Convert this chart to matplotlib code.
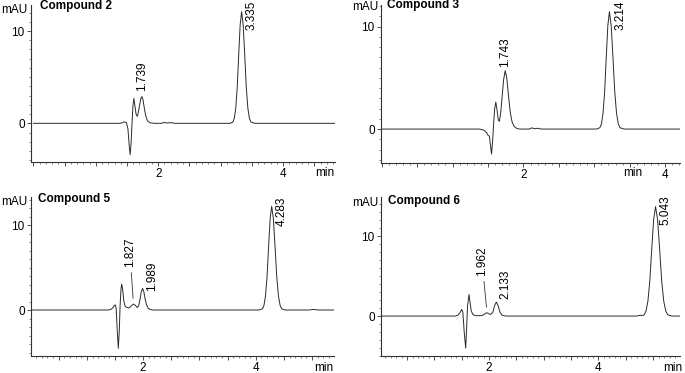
import numpy as np
import matplotlib.pyplot as plt
from matplotlib.ticker import MultipleLocator, FuncFormatter

plt.rcParams['font.family'] = ['Liberation Sans', 'DejaVu Sans']

# ---- data (time in min, signal in mAU) ----
names = ['Compound 2', 'Compound 3', 'Compound 5', 'Compound 6']

c2_time = [0, 1.40, 1.45, 1.49, 1.515, 1.535, 1.55, 1.565, 1.58, 1.595, 1.61, 1.625, 1.645,
           1.665, 1.685, 1.705, 1.722, 1.739, 1.755, 1.775, 1.80, 1.83, 1.87, 1.95, 2.05,
           2.10, 2.14, 2.20, 2.26, 3.15, 3.194, 3.2175, 3.241, 3.2645, 3.288, 3.3115, 3.335,
           3.36, 3.385, 3.41, 3.435, 3.46, 3.485, 3.55, 4.83]
c2_signal = [0, 0, 0.15, 0.1, -0.6, -2.4, -3.4, -2.2, 0.0, 1.9, 2.7, 2.0, 1.0,
             0.75, 1.3, 2.1, 2.7, 2.9, 2.6, 1.75, 0.8, 0.25, 0.05, 0, 0,
             0.1, 0.03, 0.08, 0, 0, 0.13, 0.53, 1.63, 3.87, 7.38, 10.65, 12.1,
             10.65, 7.38, 3.87, 1.63, 0.53, 0.13, 0, 0]

c3_time = [0, 1.38, 1.44, 1.48, 1.50, 1.52, 1.535, 1.55, 1.565, 1.58, 1.595, 1.61, 1.625,
           1.645, 1.66, 1.68, 1.70, 1.72, 1.743, 1.765, 1.79, 1.815, 1.84, 1.87, 1.91, 1.95,
           2.08, 2.12, 2.16, 2.20, 2.25, 3.03, 3.079, 3.1015, 3.124, 3.1465, 3.169, 3.1915,
           3.214, 3.239, 3.264, 3.289, 3.314, 3.339, 3.364, 3.42, 4.21]
c3_signal = [0, 0, -0.1, -0.35, -0.6, -0.7, -1.6, -2.43, -1.2, 0.6, 2.0, 2.63, 2.0,
             0.9, 0.75, 1.6, 3.2, 4.8, 5.7, 5.0, 3.2, 1.6, 0.7, 0.25, 0.05, 0,
             0, 0.12, 0.03, 0.08, 0, 0, 0.13, 0.5, 1.55, 3.66, 6.98, 10.08,
             11.45, 10.08, 6.98, 3.66, 1.55, 0.5, 0.13, 0, 0]

c5_time = [0, 1.36, 1.42, 1.46, 1.49, 1.505, 1.52, 1.54, 1.558, 1.575, 1.59, 1.605, 1.618,
           1.635, 1.655, 1.68, 1.71, 1.75, 1.79, 1.827, 1.86, 1.895, 1.92, 1.945, 1.965,
           1.989, 2.01, 2.035, 2.06, 2.09, 2.13, 2.18, 4.05, 4.118, 4.1455, 4.173, 4.2005,
           4.228, 4.2555, 4.283, 4.313, 4.343, 4.373, 4.403, 4.433, 4.463, 4.53, 4.95,
           5.03, 5.10, 5.39]
c5_signal = [0, 0, 0.05, 0.25, 0.55, 0.6, 0.2, -2.5, -4.5, -2.5, 0.5, 2.4, 3.06,
             2.4, 1.1, 0.45, 0.3, 0.25, 0.5, 0.7, 0.55, 0.3, 0.5, 1.3, 2.1,
             2.55, 2.2, 1.3, 0.6, 0.2, 0.05, 0, 0, 0.13, 0.54, 1.65, 3.9,
             7.44, 10.74, 12.2, 10.74, 7.44, 3.9, 1.65, 0.54, 0.13, 0, 0,
             0.08, 0, 0]

c6_time = [0, 1.38, 1.43, 1.47, 1.50, 1.52, 1.545, 1.572, 1.59, 1.605, 1.633, 1.65, 1.675,
           1.71, 1.76, 1.85, 1.90, 1.935, 1.962, 1.99, 2.03, 2.07, 2.10, 2.133, 2.165, 2.20,
           2.24, 2.30, 4.70, 4.76, 4.80, 4.833, 4.868, 4.903, 4.938, 4.973, 5.008, 5.043,
           5.0805, 5.118, 5.1555, 5.193, 5.2305, 5.268, 5.34, 5.49]
c6_signal = [0, 0, 0.1, 0.45, 0.83, 0.5, -2.0, -4.0, -1.5, 1.2, 2.7, 1.8, 0.6,
             0.15, 0.05, 0.05, 0.15, 0.35, 0.4, 0.3, 0.2, 0.5, 1.3, 1.75, 1.3, 0.45,
             0.1, 0, 0, 0.1, 0.05, 0.15, 0.6, 1.85, 4.38, 8.36, 12.06, 13.7,
             12.06, 8.36, 4.38, 1.85, 0.6, 0.15, 0, 0]

c2_peaks = [1.739, 3.335]
c3_peaks = [1.743, 3.214]
c5_peaks = [1.827, 1.989, 4.283]
c6_peaks = [1.962, 2.133, 5.043]

traces = [(c2_time, c2_signal), (c3_time, c3_signal), (c5_time, c5_signal), (c6_time, c6_signal)]
peaks = [c2_peaks, c3_peaks, c5_peaks, c6_peaks]

# ---- layout (pixels on a 685x373 canvas) ----
W, H = 685, 373
boxes = [(31, 5, 335, 162), (381, 5, 680, 163), (31, 197, 334, 356), (381, 197, 680, 356)]
xlims = [(-0.037, 4.83), (-0.01, 4.21), (0.007, 5.39), (0.024, 5.49)]
ylims = [(-4.19, 12.82), (-3.31, 12.1), (-5.41, 13.3), (-5.0, 14.9)]
title_pos = [(40, 6), (387, 5), (38, 199), (388, 201)]
mau_pos = [(27, 10), (378, 7), (27, 202), (378, 203)]
min_pos = [(325, 173), (633, 173), (324, 368), (673, 368)]
# label offsets from peak apex (dx, dy in px, leader line)
label_off = [[(0, 6, False), (10, -18, False)],
             [(0, 4, False), (11, -18, False)],
             [(-3.5, 37, True), (9, -3, False), (10, -20, False)],
             [(-5, 37, True), (9, 3, False), (9.5, -18, False)]]

line_col = '#2a2a2a'
fs = 8.5

fig = plt.figure(figsize=(W / 100, H / 100), dpi=100)


def px(x, y):
    return x / W, 1 - y / H


def xfmt(v, pos):
    if abs(v - 2) < 1e-6 or abs(v - 4) < 1e-6:
        return '%d' % round(v)
    return ''


for i in range(4):
    l, t, r, b = boxes[i]
    ax = fig.add_axes([l / W, 1 - b / H, (r - l) / W, (b - t) / H])
    tt, yy = traces[i]
    ax.plot(tt, yy, color=line_col, lw=0.7)
    ax.set_xlim(*xlims[i])
    ax.set_ylim(*ylims[i])

    for s in ['top', 'right']:
        ax.spines[s].set_visible(False)
    for s in ['left', 'bottom']:
        ax.spines[s].set_color('#333333')
        ax.spines[s].set_linewidth(0.8)

    ax.xaxis.set_major_locator(MultipleLocator(0.5))
    ax.xaxis.set_minor_locator(MultipleLocator(0.1))
    ax.xaxis.set_major_formatter(FuncFormatter(xfmt))
    ax.yaxis.set_major_locator(MultipleLocator(10))
    ax.yaxis.set_minor_locator(MultipleLocator(1))
    ax.tick_params(which='major', direction='out', length=3, width=0.6, color='#333333',
                   labelsize=fs, pad=1.5)
    ax.tick_params(which='minor', direction='out', length=1.6, width=0.5, color='#555555')

    # peak retention time labels
    for rt, (dx, dy, leader) in zip(peaks[i], label_off[i]):
        apex = np.interp(rt, tt, yy)
        kw = dict(xy=(rt, apex), xytext=(dx, dy), textcoords='offset pixels',
                  rotation=90, ha='center', va='bottom', fontsize=fs,
                  annotation_clip=False)
        if leader:
            kw['arrowprops'] = dict(arrowstyle='-', lw=0.6, color='#333333',
                                    shrinkA=2, shrinkB=4)
        ax.annotate('%.3f' % rt, **kw)

    fig.text(*px(*title_pos[i]), names[i], ha='left', va='center',
             fontsize=fs, fontweight='bold')
    fig.text(*px(*mau_pos[i]), 'mAU', ha='right', va='center', fontsize=fs)
    fig.text(*px(*min_pos[i]), 'min', ha='center', va='center', fontsize=fs)

fig.savefig('out.png', dpi=100)
